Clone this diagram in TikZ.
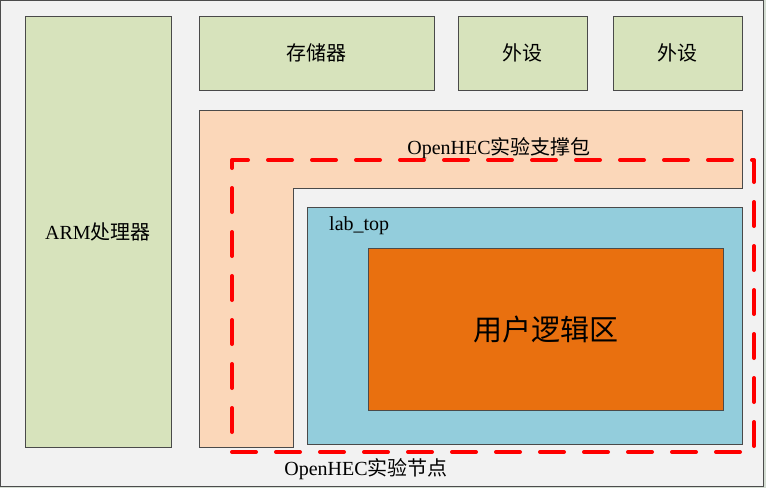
\documentclass[tikz,border=0pt]{standalone}
\usepackage{fontspec}
\setmainfont{Liberation Serif}
\newfontfamily\cjk{Noto Sans CJK SC}
\definecolor{bgcol}{HTML}{F2F2F2}
\definecolor{outcol}{HTML}{D4DDD2}
\definecolor{greencol}{HTML}{D7E3BC}
\definecolor{peachcol}{HTML}{FBD7B9}
\definecolor{bluecol}{HTML}{93CDDC}
\definecolor{orangecol}{HTML}{E9700F}
\definecolor{edgecol}{HTML}{4A4A4A}
\begin{document}
\begin{tikzpicture}[x=1pt,y=-1pt,
  box/.style={draw=edgecol, line width=0.9pt, inner sep=0pt, outer sep=0pt, anchor=north west,
    font=\fontsize{20pt}{24pt}\selectfont, text=black},
  lbl/.style={inner sep=0pt, font=\fontsize{20pt}{24pt}\selectfont, text=black},
  redline/.style={draw=red, line width=4pt, line cap=round, line join=round, dash pattern=on 24pt off 20pt}]
\useasboundingbox (0,0) rectangle (766,488);
\fill[outcol] (0,0) rectangle (766,488);
\node[box, fill=bgcol, draw=black!70, minimum width=763pt, minimum height=486pt] (frame) at (0.5,0.5) {};
% top and left boxes
\node[box, fill=greencol, minimum width=146pt, minimum height=431pt] (arm) at (25,16) {ARM{\cjk 处理器}};
\node[box, fill=greencol, minimum width=235pt, minimum height=74pt] (mem) at (199,16) {{\cjk 存储器}};
\node[box, fill=greencol, minimum width=129pt, minimum height=74pt] (p1) at (458,16) {{\cjk 外设}};
\node[box, fill=greencol, minimum width=129pt, minimum height=74pt] (p2) at (613,16) {{\cjk 外设}};
% support package L-shape
\draw[fill=peachcol, draw=edgecol, line width=0.9pt] (199,110) -- (742,110) -- (742,188) -- (293,188) -- (293,447) -- (199,447) -- cycle;
\node[lbl] (pkglbl) at (499,148) {OpenHEC{\cjk 实验支撑包}};
% lab_top
\node[box, fill=bluecol, minimum width=435pt, minimum height=237pt] (lab) at (307,207) {};
\node[lbl, anchor=west] (labtoplbl) at (329,226) {lab\_top};
% user logic
\node[box, fill=orangecol, minimum width=355pt, minimum height=162pt,
  font=\fontsize{29pt}{34pt}\selectfont] (user) at (368,248) {{\cjk 用户逻辑区}};
% dashed node boundary
\node[box, redline, minimum width=522pt, minimum height=292pt] (expnode) at (232,160) {};
\node[lbl] (nodelbl) at (366,469) {OpenHEC{\cjk 实验节点}};
\end{tikzpicture}
\end{document}
